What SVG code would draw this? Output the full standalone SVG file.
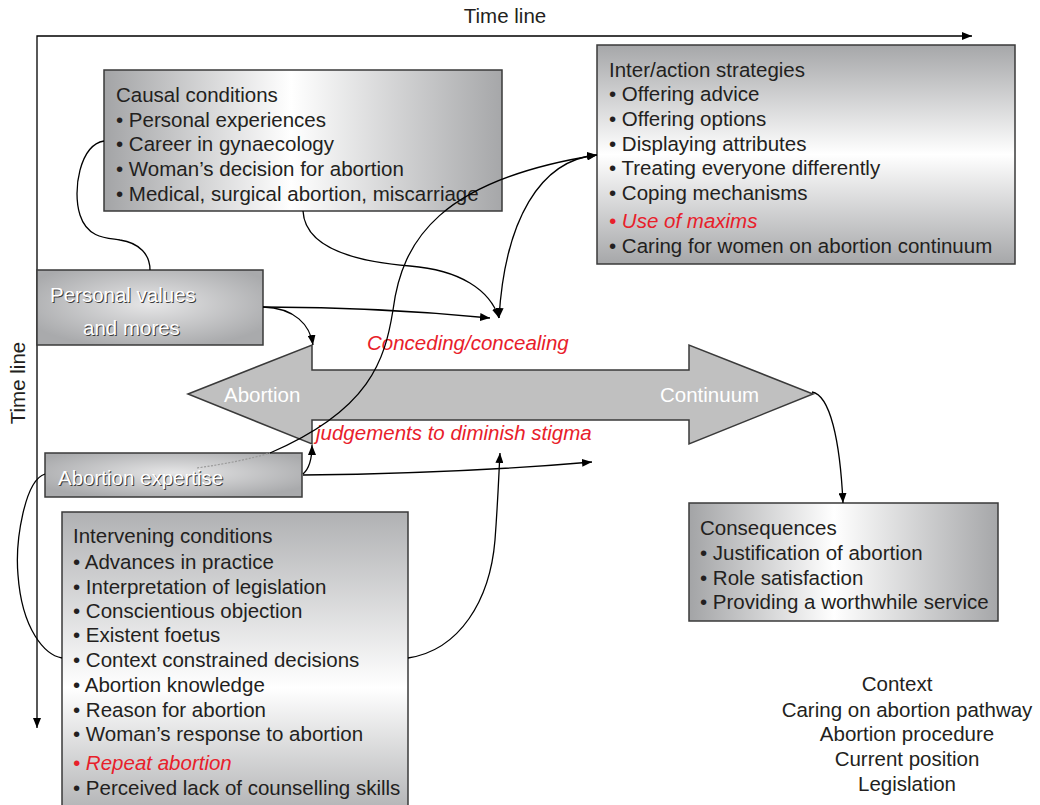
<svg xmlns="http://www.w3.org/2000/svg" width="1040" height="805" viewBox="0 0 1040 805">
<defs>
<style>
text{font-family:"Liberation Sans",Arial,Helvetica,sans-serif;font-size:20.5px;fill:#231f20}
.box{stroke:#3a3a3a;stroke-width:1.5}
.red{fill:#e8202a;font-style:italic}
.wt{fill:#ffffff}
.sh{fill:#3a3a3a}
.con{fill:none;stroke:#000;stroke-width:1.3}
.arr{marker-end:url(#ah)}
</style>
<marker id="ah" viewBox="0 0 10 8" refX="10" refY="4" markerWidth="10" markerHeight="8" orient="auto-start-reverse" markerUnits="userSpaceOnUse"><path d="M0,0 L10,4 L0,8 z" fill="#000"/></marker>
<linearGradient id="gh" x1="0" y1="0" x2="1" y2="0"><stop offset="0" stop-color="#a3a4a6"/><stop offset="0.47" stop-color="#ffffff"/><stop offset="1" stop-color="#a6a7a9"/></linearGradient>
<linearGradient id="gv" x1="0" y1="0" x2="0" y2="1"><stop offset="0" stop-color="#a6a7a9"/><stop offset="0.5" stop-color="#ffffff"/><stop offset="1" stop-color="#a6a7a9"/></linearGradient>
<linearGradient id="gv2" x1="0" y1="0" x2="0" y2="1"><stop offset="0" stop-color="#b0b1b3"/><stop offset="0.55" stop-color="#ffffff"/><stop offset="1" stop-color="#a6a7a9"/></linearGradient>
<radialGradient id="gr" cx="0.5" cy="0.45" r="0.6"><stop offset="0" stop-color="#e6e6e7"/><stop offset="1" stop-color="#a9aaac"/></radialGradient>
</defs>
<rect width="1040" height="805" fill="#fff"/>

<g id="timeline">
<text x="505" y="23" text-anchor="middle">Time line</text>
<text transform="translate(25,383) rotate(-90)" text-anchor="middle">Time line</text>
<path class="con" d="M37,728 L37,36 L972,36" style="marker-start:url(#ah);marker-end:url(#ah)"/>
</g>

<g id="causal">
<rect class="box" x="104" y="70" width="398" height="141" fill="url(#gh)"/>
<text x="116" y="102">Causal conditions</text>
<text x="116" y="127">• Personal experiences</text>
<text x="116" y="151">• Career in gynaecology</text>
<text x="116" y="176">• Woman’s decision for abortion</text>
<text x="116" y="201">• Medical, surgical abortion, miscarriage</text>
</g>

<g id="strategies">
<rect class="box" x="597" y="45" width="418" height="219" fill="url(#gv)"/>
<text x="609" y="77">Inter/action strategies</text>
<text x="609" y="101">• Offering advice</text>
<text x="609" y="126">• Offering options</text>
<text x="609" y="151">• Displaying attributes</text>
<text x="609" y="175">• Treating everyone differently</text>
<text x="609" y="200">• Coping mechanisms</text>
<text x="609" y="228" class="red">• Use of maxims</text>
<text x="609" y="253">• Caring for women on abortion continuum</text>
</g>

<g id="values">
<rect class="box" x="37" y="270" width="226" height="75" fill="url(#gr)"/>
<text x="51" y="303" class="sh">Personal values</text>
<text x="50" y="302" class="wt">Personal values</text>
<text x="84" y="336" class="sh">and mores</text>
<text x="83" y="335" class="wt">and mores</text>
</g>

<g id="expertise">
<rect class="box" x="45" y="453" width="257" height="44" fill="url(#gr)"/>
<text x="59" y="486" class="sh">Abortion expertise</text>
<text x="58" y="485" class="wt">Abortion expertise</text>
</g>

<g id="continuum">
<path d="M188,394 L312,345 L312,370 L689,370 L689,345 L813,394 L689,444 L689,420 L312,420 L312,444 Z" fill="#c0c0c0" stroke="#3a3a3a" stroke-width="1.5"/>
<text x="224" y="402" class="wt">Abortion</text>
<text x="660" y="402" class="wt">Continuum</text>
<text x="367" y="350" class="red">Conceding/concealing</text>
<text x="316" y="440" class="red">judgements to diminish stigma</text>
</g>

<g id="intervening">
<rect class="box" x="62" y="512" width="346" height="320" fill="url(#gv2)"/>
<text x="73" y="543">Intervening conditions</text>
<text x="73" y="569">• Advances in practice</text>
<text x="73" y="594">• Interpretation of legislation</text>
<text x="73" y="618">• Conscientious objection</text>
<text x="73" y="642">• Existent foetus</text>
<text x="73" y="667">• Context constrained decisions</text>
<text x="73" y="692">• Abortion knowledge</text>
<text x="73" y="717">• Reason for abortion</text>
<text x="73" y="741">• Woman’s response to abortion</text>
<text x="73" y="770" class="red">• Repeat abortion</text>
<text x="73" y="795">• Perceived lack of counselling skills</text>
</g>

<g id="consequences">
<rect class="box" x="689" y="503" width="309" height="118" fill="url(#gh)"/>
<text x="700" y="535">Consequences</text>
<text x="700" y="560">• Justification of abortion</text>
<text x="700" y="585">• Role satisfaction</text>
<text x="700" y="609">• Providing a worthwhile service</text>
</g>

<g id="context" text-anchor="middle">
<text x="897" y="691">Context</text>
<text x="907" y="717">Caring on abortion pathway</text>
<text x="907" y="741">Abortion procedure</text>
<text x="907" y="766">Current position</text>
<text x="907" y="791">Legislation</text>
</g>

<g id="connectors">
<path class="con" d="M104,141 C80,145 72,190 80,215 C88,240 110,238 120,240 C140,243 150,255 150,270"/>
<path class="con arr" d="M303,211 C305,250 360,262 410,266 C460,270 490,290 499,318"/>
<path class="con arr" d="M597,155 C540,160 505,220 499,318" style="marker-start:url(#ah)"/>
<path d="M197,468 C225,464 250,459 270,453" fill="none" stroke="#9a9a9a" stroke-width="1.2" stroke-dasharray="2,1.5"/>
<path class="con arr" d="M270,453 C370,410 385,360 393,310 C402,240 440,180 597,155"/>
<path class="con arr" d="M263,307 C350,307 430,312 490,318"/>
<path class="con arr" d="M263,307 C295,308 310,325 313,345"/>
<path class="con arr" d="M303,474 C310,468 312,458 312,445"/>
<path class="con arr" d="M303,475 C400,474 500,470 592,462"/>
<path class="con" d="M45,474 C25,480 15,540 18,575 C22,630 45,655 62,658"/>
<path class="con arr" d="M408,658 C460,650 490,600 495,540 C498,500 499,470 500,453"/>
<path class="con arr" d="M812,392 C830,395 840,440 843,503"/>
</g>
</svg>
